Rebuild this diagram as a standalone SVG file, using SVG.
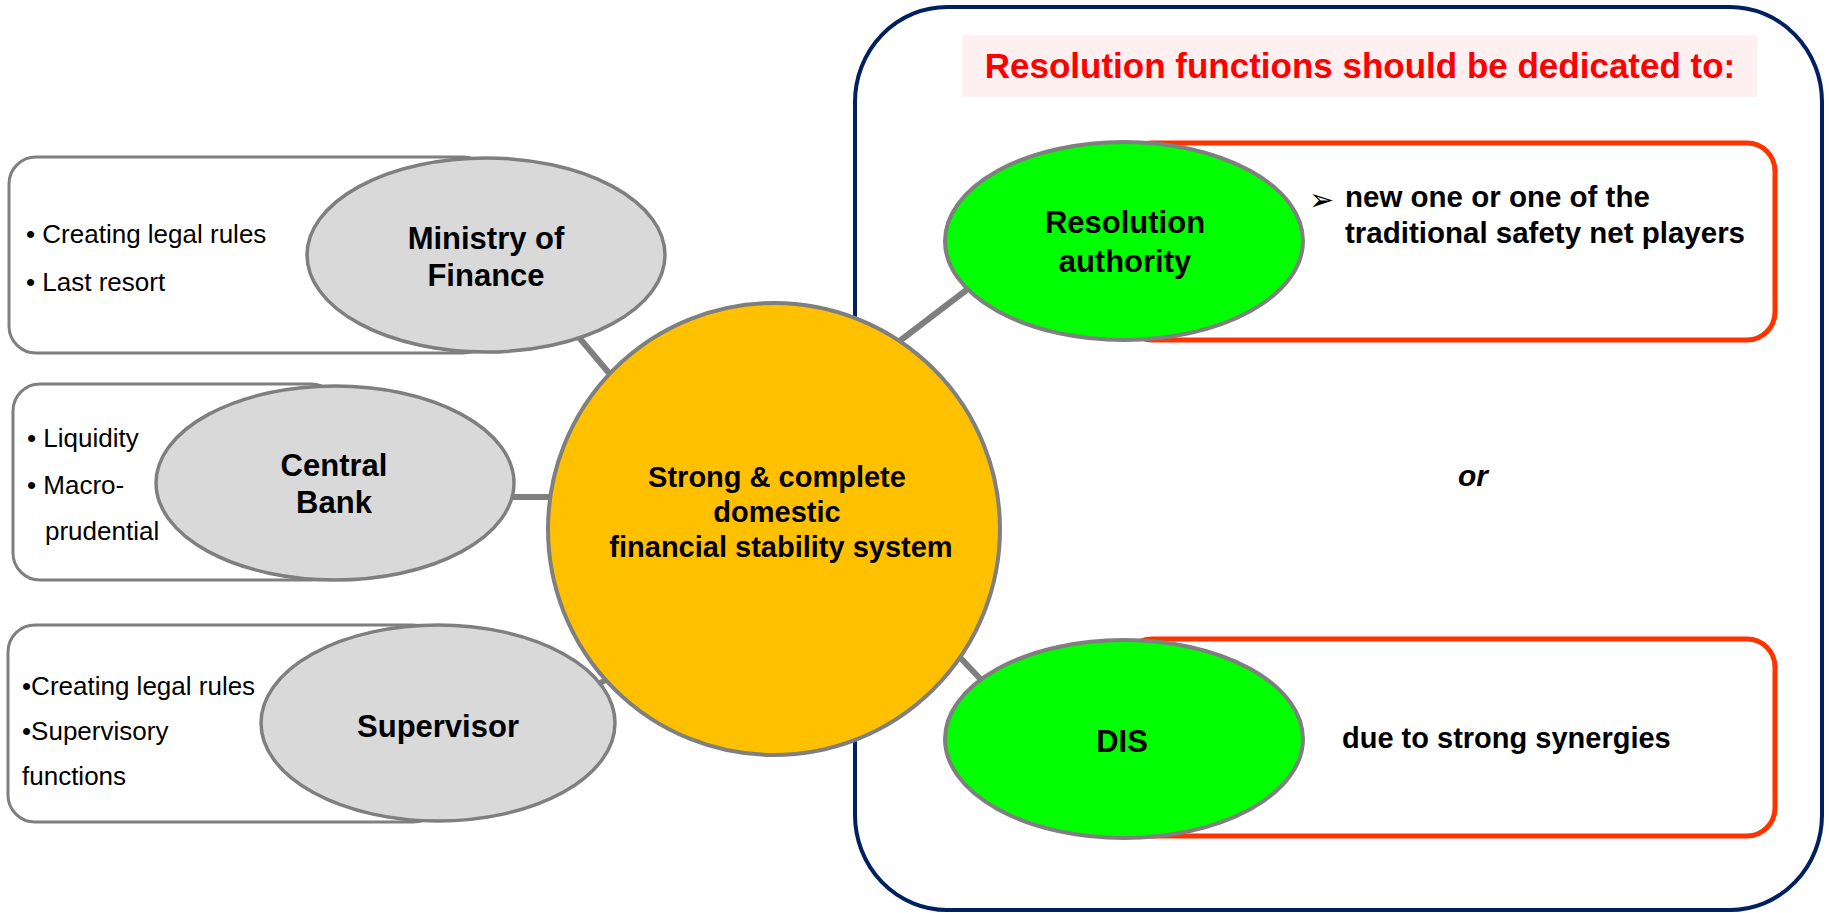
<svg xmlns="http://www.w3.org/2000/svg" width="1829" height="913" viewBox="0 0 1829 913">
<style>
text{font-family:"Liberation Sans",Arial,sans-serif;fill:#000}
.box{fill:#fff;stroke:#7f7f7f;stroke-width:3}
.gray{fill:#d9d9d9;stroke:#7f7f7f;stroke-width:3.5}
.green{fill:#00ff00;stroke:#7f7f7f;stroke-width:4}
.red{fill:#fff;stroke:#ff3300;stroke-width:5}
.conn{stroke:#7f7f7f;stroke-width:6;fill:none}
.lbl{font-size:31px;font-weight:bold;text-anchor:middle}
.item{font-size:26px}
.side{font-size:29.5px;font-weight:bold}
</style>
<rect id="frame" x="855" y="7" width="967" height="903" rx="92" ry="95" fill="#fff" stroke="#002060" stroke-width="4"/>
<g id="title">
<rect x="962" y="35" width="795" height="62" fill="#fef0f0"/>
<text x="1360" y="78" text-anchor="middle" style="font-size:35px;font-weight:bold;fill:#ff0000">Resolution functions should be dedicated to:</text>
</g>
<g id="connectors">
<line class="conn" x1="560" y1="315" x2="625" y2="392"/>
<line class="conn" x1="500" y1="497" x2="565" y2="497"/>
<line class="conn" x1="570" y1="700" x2="650" y2="655"/>
<line class="conn" x1="880" y1="356" x2="990" y2="272"/>
<line class="conn" x1="940" y1="636" x2="1000" y2="700"/>
</g>
<g id="ministry">
<rect class="box" x="9" y="157" width="481" height="196" rx="27"/>
<text class="item" x="26" y="243">• Creating legal rules</text>
<text class="item" x="26" y="291">• Last resort</text>
<ellipse class="gray" cx="486" cy="255" rx="179" ry="97"/>
<text class="lbl" x="486" y="249">Ministry of</text>
<text class="lbl" x="486" y="286">Finance</text>
</g>
<g id="centralbank">
<rect class="box" x="13" y="384" width="325" height="196" rx="27"/>
<text class="item" x="27" y="447">• Liquidity</text>
<text class="item" x="27" y="494">• Macro-</text>
<text class="item" x="45" y="540">prudential</text>
<ellipse class="gray" cx="335" cy="483" rx="179" ry="97"/>
<text class="lbl" x="334" y="476">Central</text>
<text class="lbl" x="334" y="513">Bank</text>
</g>
<g id="supervisor">
<rect class="box" x="8" y="625" width="432" height="197" rx="27"/>
<text class="item" x="22" y="695">•Creating legal rules</text>
<text class="item" x="22" y="740">•Supervisory</text>
<text class="item" x="22" y="785">functions</text>
<ellipse class="gray" cx="438" cy="723" rx="177" ry="98"/>
<text class="lbl" x="438" y="737">Supervisor</text>
</g>
<g id="center">
<ellipse cx="774" cy="529" rx="226" ry="226" fill="#ffc000" stroke="#7f7f7f" stroke-width="4"/>
<text x="777" y="487" text-anchor="middle" style="font-size:29px;font-weight:bold">Strong &amp; complete</text>
<text x="777" y="522" text-anchor="middle" style="font-size:29px;font-weight:bold">domestic</text>
<text x="781" y="557" text-anchor="middle" style="font-size:29px;font-weight:bold">financial stability system</text>
</g>
<g id="resolution">
<rect class="red" x="1124" y="143" width="651" height="197" rx="28"/>
<text x="1309" y="210" style="font-size:30px;font-family:'DejaVu Sans',sans-serif">➢</text>
<text class="side" x="1345" y="207">new one or one of the</text>
<text class="side" x="1345" y="243">traditional safety net players</text>
<ellipse class="green" cx="1124" cy="241" rx="179" ry="99"/>
<text class="lbl" x="1125" y="233">Resolution</text>
<text class="lbl" x="1125" y="272">authority</text>
</g>
<text id="or" x="1473" y="486" text-anchor="middle" style="font-size:30px;font-weight:bold;font-style:italic">or</text>
<g id="dis">
<rect class="red" x="1124" y="639" width="651" height="197" rx="28"/>
<text x="1342" y="748" style="font-size:29px;font-weight:bold">due to strong synergies</text>
<ellipse class="green" cx="1124" cy="739" rx="179" ry="99"/>
<text class="lbl" x="1122" y="752">DIS</text>
</g>
</svg>
